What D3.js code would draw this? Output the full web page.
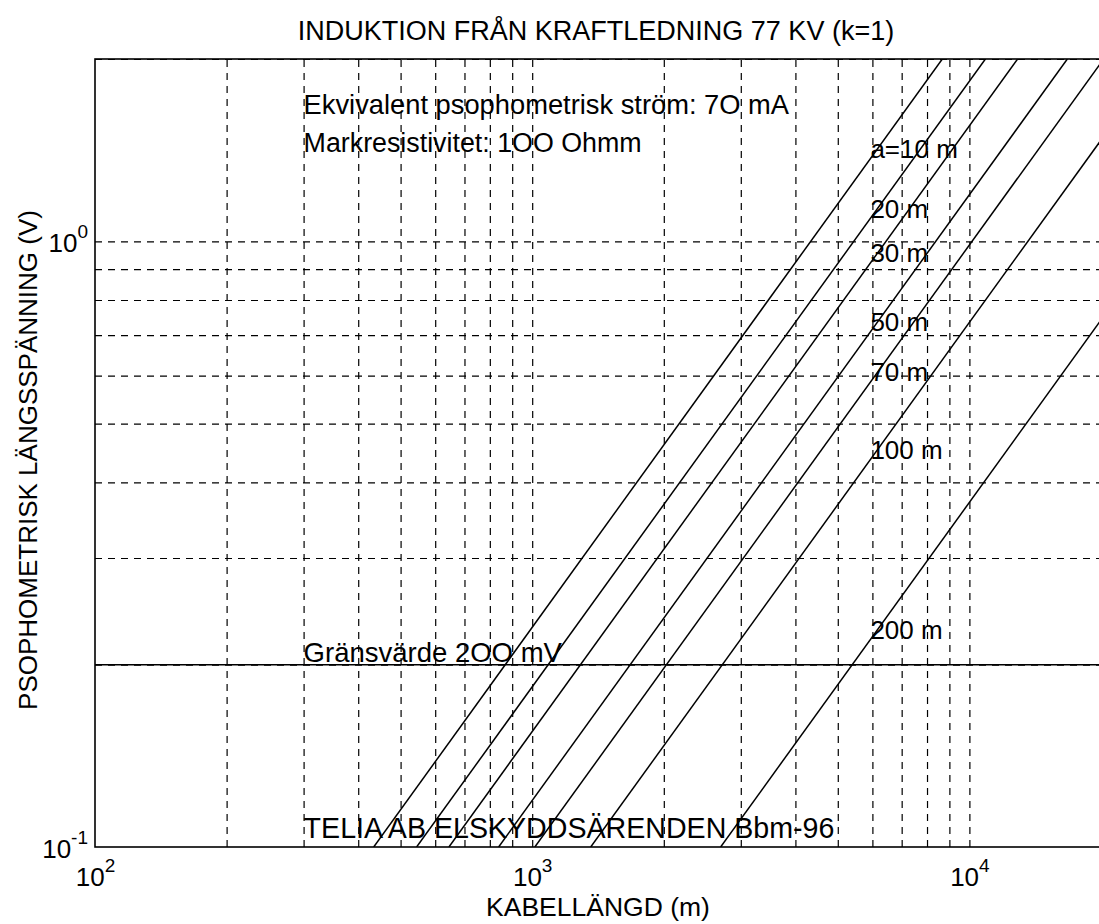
<!DOCTYPE html>
<html><head><meta charset="utf-8">
<script src="https://cdn.jsdelivr.net/npm/d3@7/dist/d3.min.js"></script>
<style>
body{margin:0;background:#fff}
text{font-family:"Liberation Sans",Arial,Helvetica,sans-serif;fill:#000}
</style>
</head><body>
<svg id="chart" width="1099" height="924"></svg>
<script>
// ---------- data ----------
const titleText = "INDUKTION FRÅN KRAFTLEDNING 77 KV (k=1)";
const xLabelText = "KABELLÄNGD (m)";
const yLabelText = "PSOPHOMETRISK LÄNGSSPÄNNING (V)";

const spacings   = [10, 20, 30, 50, 70, 100, 200];          // a (m)
const lineLabels = ["a=10 m", "20 m", "30 m", "50 m", "70 m", "100 m", "200 m"];
const lengthAtLowVolt  = [434, 544, 645, 838, 1014, 1361, 2698];          // cable length (m) where V = 0.1
const lengthAtHighVolt = [8670, 10880, 12890, 16750, 20280, 27220, 53950]; // cable length (m) where V = 2
const lowVolt = 0.1, highVolt = 2;
const labelLength = 6000;

const limitVolt = 0.2;
const xDomain = [100, 20000];
const yDomain = [0.1, 2];
const xGrid = [200,300,400,500,600,700,800,900,1000,2000,3000,4000,5000,6000,7000,8000,9000,10000];
const yGrid = [0.2,0.3,0.4,0.5,0.6,0.7,0.8,0.9,1,2];
const xTickValues = [100, 1000, 10000];
const xTickExps = ["2", "3", "4"];
const yTickValues = [0.1, 1];
const yTickExps = ["-1", "0"];

const noteTexts   = ["Ekvivalent psophometrisk ström: 7O mA", "Markresistivitet: 1OO Ohmm", "Gränsvärde 2OO mV", "TELIA AB ELSKYDDSÄRENDEN Bbm-96"];
const noteLengths = [300, 300, 300, 300];
const noteVolts   = [1.62, 1.405, 0.2019, 0.1035];

// ---------- layout ----------
const svg = d3.select("#chart");
const pL = 95, pR = 1101, pT = 59, pB = 847;
const x = d3.scaleLog().domain(xDomain).range([pL, pR]);
const y = d3.scaleLog().domain(yDomain).range([pB, pT]);
const FS = 26;
const noteSizes = [27.3, 26.8, 27.5, 28.6];

svg.append("rect").attr("width",1099).attr("height",924).attr("fill","#fff");

svg.append("defs").append("clipPath").attr("id","plotclip")
  .append("rect").attr("x",pL).attr("y",pT).attr("width",pR-pL).attr("height",pB-pT);

// grid via axes
const gx = svg.append("g").attr("transform",`translate(0,${pB})`)
  .call(d3.axisBottom(x).tickValues(xGrid).tickSize(-(pB-pT)).tickFormat(""));
gx.select(".domain").remove();
gx.selectAll(".tick line").attr("stroke","#000").attr("stroke-width",1.2).attr("stroke-dasharray","7,6");

const gy = svg.append("g").attr("transform",`translate(${pL},0)`)
  .call(d3.axisLeft(y).tickValues(yGrid).tickSize(-(pR-pL)).tickFormat(""));
gy.select(".domain").remove();
gy.selectAll(".tick line").attr("stroke","#000").attr("stroke-width",1.2).attr("stroke-dasharray","7,6");

// limit line
svg.append("line")
  .attr("x1",x(xDomain[0])).attr("x2",x(xDomain[1]))
  .attr("y1",y(limitVolt)).attr("y2",y(limitVolt))
  .attr("stroke","#000").attr("stroke-width",1.5);

// induced voltage lines
const lineGen = d3.line().x(d=>x(d[0])).y(d=>y(d[1]));
const plotG = svg.append("g").attr("clip-path","url(#plotclip)");
spacings.forEach((a,i)=>{
  plotG.append("path")
    .datum([[lengthAtLowVolt[i], lowVolt],[lengthAtHighVolt[i], highVolt]])
    .attr("d", lineGen).attr("fill","none").attr("stroke","#000").attr("stroke-width",1.5);
});

// line labels at L = labelLength
spacings.forEach((a,i)=>{
  const p = Math.log(highVolt/lowVolt)/Math.log(lengthAtHighVolt[i]/lengthAtLowVolt[i]);
  const v = lowVolt*Math.pow(labelLength/lengthAtLowVolt[i], p);
  svg.append("text").attr("x", x(labelLength)-2).attr("y", y(v)+2)
    .attr("font-size",FS).text(lineLabels[i]);
});

// notes
noteTexts.forEach((t,i)=>{
  svg.append("text").attr("x", x(noteLengths[i])).attr("y", y(noteVolts[i]))
    .attr("font-size",noteSizes[i]).text(t);
});

// frame
svg.append("rect").attr("x",pL).attr("y",pT).attr("width",pR-pL).attr("height",pB-pT)
  .attr("fill","none").attr("stroke","#000").attr("stroke-width",1.6);

// tick labels x
const xl = svg.append("g").attr("transform",`translate(0,${pB})`)
  .call(d3.axisBottom(x).tickValues(xTickValues).tickSize(0).tickFormat(""));
xl.select(".domain").remove();
xl.selectAll(".tick").each(function(d,i){
  const t = d3.select(this).append("text").attr("y",39).attr("text-anchor","middle").attr("font-size",26);
  t.append("tspan").text("10");
  t.append("tspan").attr("dy",-14).attr("font-size",19).text(xTickExps[i]);
});

// tick labels y
const yl = svg.append("g").attr("transform",`translate(${pL},0)`)
  .call(d3.axisLeft(y).tickValues(yTickValues).tickSize(0).tickFormat(""));
yl.select(".domain").remove();
yl.selectAll(".tick").each(function(d,i){
  const t = d3.select(this).append("text").attr("x",-7).attr("y",10).attr("text-anchor","end").attr("font-size",26);
  t.append("tspan").text("10");
  t.append("tspan").attr("dy",-14).attr("font-size",19).text(yTickExps[i]);
});

// titles
svg.append("text").attr("x",(pL+pR)/2-2).attr("y",40).attr("text-anchor","middle")
  .attr("font-size",27).text(titleText);
svg.append("text").attr("x",(pL+pR)/2).attr("y",916).attr("text-anchor","middle")
  .attr("font-size",26.5).text(xLabelText);
svg.append("text").attr("transform",`translate(37,460) rotate(-90)`).attr("text-anchor","middle")
  .attr("font-size",26).text(yLabelText);
</script>
</body></html>
